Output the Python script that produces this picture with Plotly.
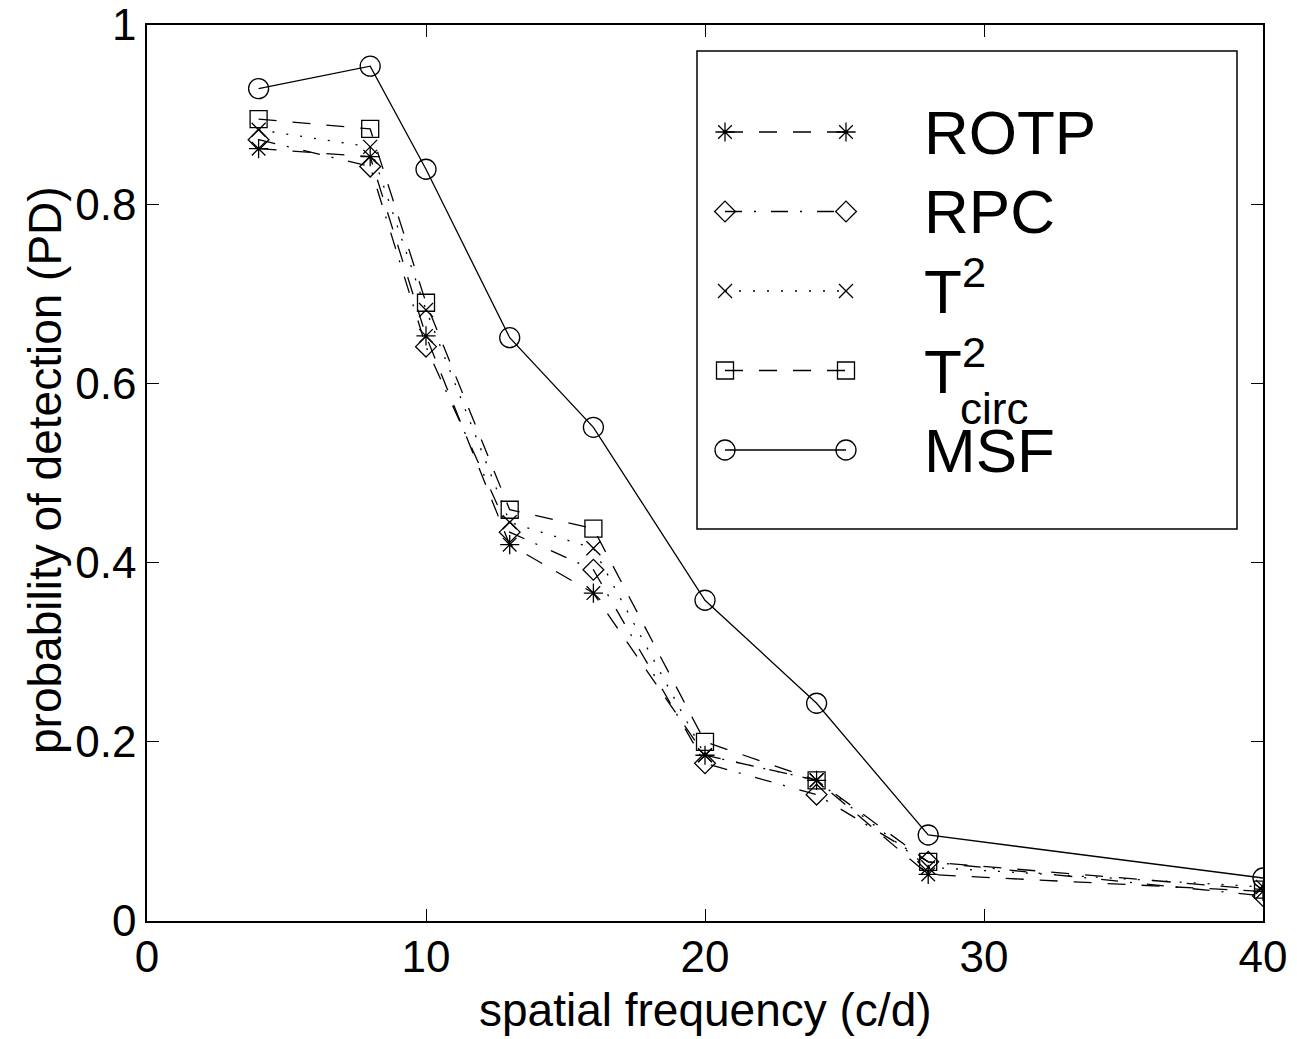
import plotly.graph_objects as go

# ---------------- data ----------------
freq = [4, 8, 10, 13, 16, 20, 24, 28, 40]
rotp = [0.862, 0.853, 0.653, 0.420, 0.366, 0.185, 0.157, 0.052, 0.033]
rpc = [0.872, 0.842, 0.641, 0.434, 0.392, 0.176, 0.141, 0.066, 0.028]
t2 = [0.883, 0.864, 0.682, 0.445, 0.416, 0.185, 0.157, 0.060, 0.038]
t2circ = [0.895, 0.884, 0.690, 0.459, 0.438, 0.200, 0.157, 0.066, 0.035]
msf = [0.929, 0.954, 0.839, 0.651, 0.551, 0.358, 0.243, 0.096, 0.048]

x_ticks = [0, 10, 20, 30, 40]
y_ticks = [0, 0.2, 0.4, 0.6, 0.8, 1]
y_tick_labels = ["0", "0.2", "0.4", "0.6", "0.8", "1"]

series_names = ["ROTP", "RPC", "T2", "T2circ", "MSF"]
series_values = [rotp, rpc, t2, t2circ, msf]

# ---------------- styles ----------------
FONT = "Liberation Sans, Arial, sans-serif"
LW = 1.3
styles = {
    "ROTP": dict(dash="18px,16px", symbol="asterisk-open", size=16),
    "RPC": dict(dash="17px,12px,2px,15px", symbol="diamond-open", size=16),
    "T2": dict(dash="2px,12px", symbol="x-thin-open", size=14),
    "T2circ": dict(dash="18px,16px", symbol="square-open", size=17),
    "MSF": dict(dash="solid", symbol="circle-open", size=20),
}

fig = go.Figure()

for name, vals in zip(series_names, series_values):
    st = styles[name]
    fig.add_trace(go.Scatter(
        x=freq, y=vals, mode="lines+markers", name=name, showlegend=False,
        line=dict(color="black", width=LW, dash=st["dash"]),
        marker=dict(symbol=st["symbol"], size=st["size"], color="black",
                    line=dict(color="black", width=LW)),
    ))

# ---------------- custom legend (pixel-based overlay axes) ----------------
W, H = 1297, 1039
L, R, T, B = 147, 1263, 25, 921

leg_box = (697, 51, 1237, 529)
row_y0, row_step = 132, 79.5
sample_x = (725, 846)
text_x = 922

for i, name in enumerate(series_names):
    st = styles[name]
    yy = row_y0 + i * row_step
    fig.add_trace(go.Scatter(
        x=list(sample_x), y=[yy, yy], mode="lines+markers", showlegend=False,
        xaxis="x2", yaxis="y2", hoverinfo="skip",
        line=dict(color="black", width=LW, dash=st["dash"]),
        marker=dict(symbol=st["symbol"], size=st["size"], color="black",
                    line=dict(color="black", width=LW)),
    ))

leg_text = {
    "ROTP": "ROTP",
    "RPC": "RPC",
    "T2": "T<sup>2</sup>",
    "T2circ": "T<sup>2</sup>",
    "MSF": "MSF",
}
text_dy = {"ROTP": 0, "RPC": 0, "T2": -4, "T2circ": -4, "MSF": 0}

annotations = []
for i, name in enumerate(series_names):
    yy = row_y0 + i * row_step + text_dy[name]
    annotations.append(dict(
        x=text_x, y=yy, xref="x2", yref="y2", text=leg_text[name],
        showarrow=False, xanchor="left", yanchor="middle",
        font=dict(family=FONT, size=62, color="black"),
    ))
# subscript "circ" stacked under the superscript
annotations.append(dict(
    x=text_x + 36, y=row_y0 + 3 * row_step + 38, xref="x2", yref="y2", text="circ",
    showarrow=False, xanchor="left", yanchor="middle",
    font=dict(family=FONT, size=44, color="black"),
))

# axis titles
annotations.append(dict(
    x=0.5, y=-(1010 - B) / (B - T), xref="paper", yref="paper",
    text="spatial frequency (c/d)", showarrow=False,
    xanchor="center", yanchor="middle",
    font=dict(family=FONT, size=46, color="black"),
))
annotations.append(dict(
    x=-(L - 45) / (R - L), y=(B - 470) / (B - T), xref="paper", yref="paper",
    text="probability of detection (PD)", showarrow=False, textangle=-90,
    xanchor="center", yanchor="middle",
    font=dict(family=FONT, size=46, color="black"),
))

shapes = [dict(
    type="rect", xref="x2", yref="y2",
    x0=leg_box[0], y0=leg_box[1], x1=leg_box[2], y1=leg_box[3],
    line=dict(color="black", width=1.5), fillcolor="white", layer="below",
)]

axis_common = dict(
    showline=True, linecolor="black", linewidth=1.5, mirror="ticks",
    ticks="inside", ticklen=12, tickwidth=1.3, tickcolor="black",
    showgrid=False, zeroline=False, automargin=False,
    tickfont=dict(family=FONT, size=44, color="black"),
)

fig.update_layout(
    width=W, height=H,
    margin=dict(l=L, r=W - R, t=T, b=H - B, pad=0, autoexpand=False),
    paper_bgcolor="white", plot_bgcolor="white",
    font=dict(family=FONT, color="black"),
    xaxis=dict(range=[0, 40], tickvals=x_ticks, ticklabelstandoff=-4, **axis_common),
    yaxis=dict(range=[0, 1], tickvals=y_ticks, ticktext=y_tick_labels,
               ticklabelstandoff=0, **axis_common),
    xaxis2=dict(range=[L, R], overlaying="x", visible=False, anchor="y2", automargin=False),
    yaxis2=dict(range=[B, T], overlaying="y", visible=False, anchor="x2", automargin=False),
    annotations=annotations,
    shapes=shapes,
    showlegend=False,
)

fig.write_html("out.html")
